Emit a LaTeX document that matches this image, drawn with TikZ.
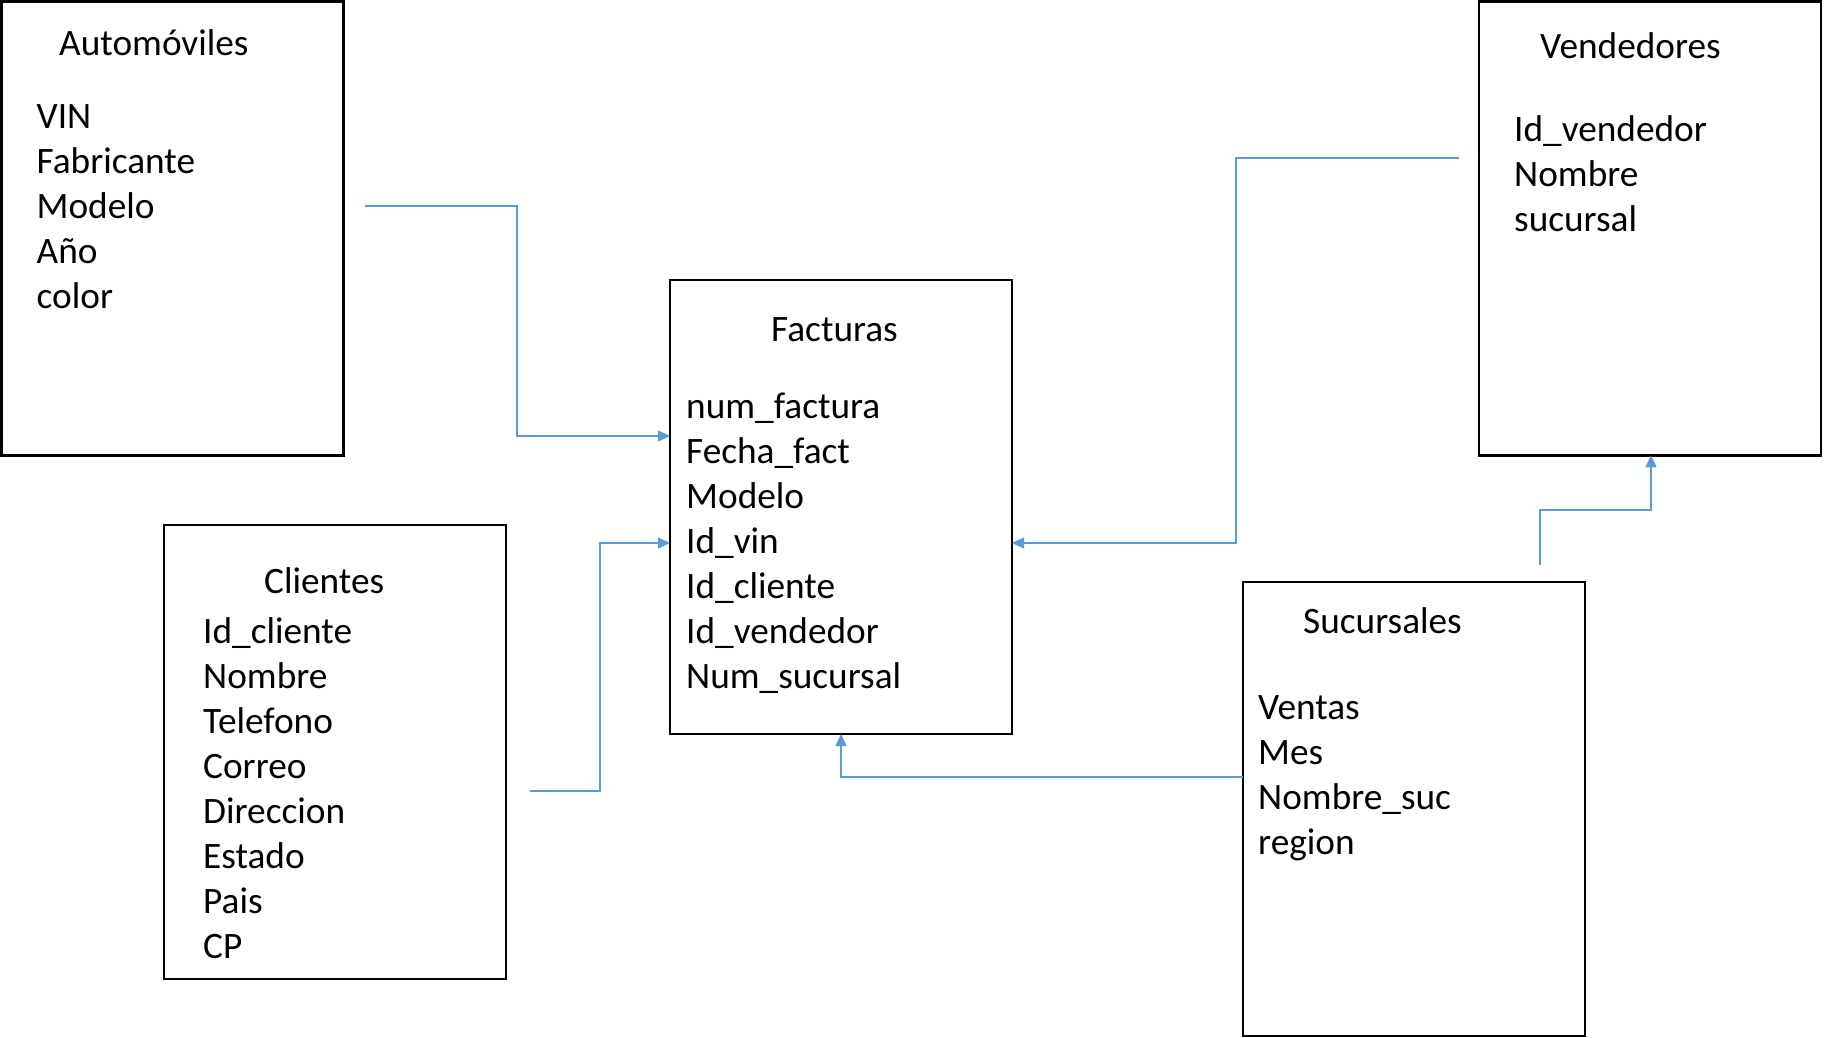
\documentclass[tikz,border=0pt]{standalone}
\usepackage{fontspec}
\setmainfont{Carlito}
\usetikzlibrary{arrows.meta}
\definecolor{connblue}{RGB}{91,155,213}
\begin{document}
\begin{tikzpicture}[x=1pt,y=-1pt,
  tbox/.style={draw=black, line width=2.7pt, rectangle, inner sep=0pt, outer sep=0pt,
    minimum width=342pt, minimum height=454pt, anchor=north west},
  txt/.style={inner sep=0pt, anchor=base west, font=\fontsize{37.3pt}{45pt}\selectfont},
  conn/.style={draw=connblue, line width=1.5pt},
  arr/.style={conn, -{Triangle[length=12pt,width=11pt]}}]
\useasboundingbox (0,0) rectangle (1841,1037);
% boxes
\node[tbox] (auto) at (1.3,1.3) {};
\node[tbox] (cli)  at (164,525) {};
\node[tbox] (fact) at (670,280) {};
\node[tbox] (vend) at (1479,1.3) {};
\node[tbox] (suc)  at (1243,582) {};
% titles
\node[txt] (autot) at (59,55.5) {Automóviles};
\node[txt] (clit)  at (264,593.5) {Clientes};
\node[txt] (factt) at (771,341.5) {Facturas};
\node[txt] (vendt) at (1540,58.5) {Vendedores};
\node[txt] (suct)  at (1303,633.5) {Sucursales};
% fields
\foreach \t [count=\i] in {VIN,Fabricante,Modelo,Año,color}
  \node[txt, name=autof\i] at (36.5,{128.5+45*(\i-1)}) {\t};
\foreach \t [count=\i] in {Id\_cliente,Nombre,Telefono,Correo,Direccion,Estado,Pais,CP}
  \node[txt, name=clif\i] at (203,{643.5+45*(\i-1)}) {\t};
\foreach \t [count=\i] in {num\_factura,Fecha\_fact,Modelo,Id\_vin,Id\_cliente,Id\_vendedor,Num\_sucursal}
  \node[txt, name=factf\i] at (686,{418.5+45*(\i-1)}) {\t};
\foreach \t [count=\i] in {Id\_vendedor,Nombre,sucursal}
  \node[txt, name=vendf\i] at (1514,{141.5+45*(\i-1)}) {\t};
\foreach \t [count=\i] in {Ventas,Mes,Nombre\_suc,region}
  \node[txt, name=sucf\i] at (1258,{719.5+45*(\i-1)}) {\t};
% connector free ends
\coordinate (c1) at (365,206);
\coordinate (c2) at (530,791);
\coordinate (c3) at (1459,158);
\coordinate (c5) at (1540,565);
% connectors
\draw[arr] (c1) -| (517,436) -- (fact.west |- 0,436);
\draw[arr] (c2) -| (600,543) -- (fact.west |- 0,543);
\draw[arr] (c3) -| (1236,543) -- (fact.east |- 0,543);
\draw[arr] (suc.west |- 0,777) -| (fact.south);
\draw[arr] (c5) |- (1651,510) -- (vend.south -| 1651,0);
\end{tikzpicture}
\end{document}
